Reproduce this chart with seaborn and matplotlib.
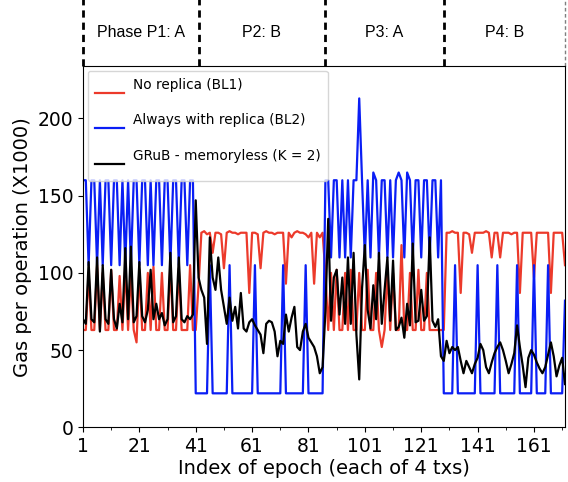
import matplotlib
matplotlib.use('Agg')
import matplotlib.pyplot as plt
import matplotlib.transforms as mtransforms
from matplotlib.legend_handler import HandlerLine2D
import seaborn as sns
import pandas as pd

# valores (gas por operacao, x1000), epocas 1..172
no_replica = [
    # fase 1 (A)
    63, 63, 100, 63, 63, 105, 63, 100, 63, 63, 102, 63, 63, 98, 63, 104, 63, 100, 63, 55,
    102, 63, 63, 100, 63, 104, 63, 63, 100, 63, 63, 105, 63, 63, 103, 63, 63, 63, 105, 63, 63,
    92,
    # fase 2 (B)
    126, 127, 125, 126, 113, 126, 126, 125, 103, 126, 127, 126, 126, 125, 126, 126, 126, 87,
    126, 126, 125, 103, 126, 127, 126, 126, 125, 126, 126, 126, 93, 126, 123, 126, 127, 126,
    126, 125, 123, 126, 93, 126, 123, 126, 100,
    # fase 3 (A)
    63, 100, 63, 102, 63, 63, 100, 63, 102, 63, 63, 100, 63, 63, 102, 63, 63, 100, 63, 52,
    63, 102, 63, 100, 63, 63, 118, 63, 63, 100, 63, 63, 102, 63, 63, 100, 63, 63, 63, 63, 63, 63,
    # fase 4 (B)
    126, 126, 127, 126, 126, 87, 126, 126, 125, 113, 126, 126, 126, 126, 127, 126, 110, 126,
    126, 110, 126, 126, 126, 125, 126, 126, 87, 126, 126, 126, 126, 97, 126, 126, 126, 126,
    126, 87, 126, 126, 126, 126, 105,
]

always_replica = [
    # fase 1 (A)
    160, 160, 105, 160, 160, 105, 160, 105, 160, 160, 105, 160, 160, 105, 160, 105, 160, 105,
    160, 160, 105, 160, 160, 105, 160, 105, 160, 160, 105, 160, 160, 105, 160, 160, 105, 160,
    160, 105, 160, 160,
    # fase 2 (B)
    22, 22, 22, 22, 22, 105, 22, 22, 22, 22, 22, 22, 105, 22, 22, 22, 22, 22, 22, 22, 22, 105,
    22, 22, 22, 22, 22, 22, 22, 22, 22, 105, 22, 22, 22, 22, 22, 22, 22, 105, 22, 22, 22, 22,
    22, 22,
    # fase 3 (A)
    160, 160, 110, 160, 160, 110, 160, 110, 160, 110, 160, 160, 213, 160, 110, 160, 110, 165,
    160, 110, 160, 160, 110, 160, 110, 160, 165, 160, 110, 165, 160, 110, 160, 160, 110, 160,
    160, 110, 160, 160, 110, 160,
    # fase 4 (B)
    22, 22, 22, 22, 105, 22, 22, 22, 22, 22, 22, 22, 105, 22, 22, 22, 22, 22, 22, 105, 22, 22,
    22, 22, 22, 22, 105, 22, 22, 22, 22, 22, 105, 22, 22, 22, 22, 105, 22, 22, 22, 22, 22, 82,
]

grub = [
    # fase 1 (A)
    70, 67, 107, 70, 68, 110, 62, 105, 70, 67, 102, 70, 64, 80, 68, 116, 70, 117, 68, 72,
    107, 72, 68, 76, 102, 70, 80, 70, 74, 66, 70, 113, 68, 72, 110, 70, 68, 72, 70, 73, 147,
    # fase 2 (B)
    97, 89, 84, 54, 123, 97, 89, 110, 89, 78, 67, 84, 69, 78, 64, 87, 64, 62, 68, 70, 66, 63,
    60, 48, 67, 69, 68, 62, 46, 56, 54, 73, 62, 71, 78, 52, 50, 62, 67, 58, 55, 52, 46, 35,
    39, 75,
    # fase 3 (A)
    135, 69, 97, 102, 73, 97, 67, 110, 67, 113, 60, 31, 90, 118, 76, 64, 92, 70, 113, 67, 89,
    110, 69, 108, 63, 65, 71, 58, 80, 66, 119, 68, 69, 89, 69, 72, 123, 69, 65, 70, 46,
    # fase 4 (B)
    43, 56, 48, 52, 50, 52, 43, 35, 43, 39, 35, 41, 45, 54, 50, 39, 35, 42, 48, 52, 55, 50,
    43, 35, 41, 48, 66, 52, 40, 26, 45, 50, 47, 42, 38, 35, 39, 47, 55, 46, 33, 40, 45, 28,
]

epocas = list(range(1, len(grub) + 1))
fases = ['Phase P1: A', 'P2: B', 'P3: A', 'P4: B']
limites_fase = [1, 42, 87, 129, 172]

df = pd.DataFrame({'Epoca': epocas, 'BL1': no_replica, 'BL2': always_replica, 'GRuB': grub})


class HandlerLinhaBaixa(HandlerLine2D):
    # no original a linha da legenda fica abaixo do texto
    def legend_artist(self, legend, orig_handle, fontsize, handlebox):
        extra = 1.05 * fontsize
        handlebox.ydescent += extra
        handlebox.height += extra
        return super().legend_artist(legend, orig_handle, fontsize, handlebox)

    def create_artists(self, legend, orig_handle, xdescent, ydescent, width, height, fontsize, trans):
        artists = super().create_artists(legend, orig_handle, xdescent, ydescent,
                                         width, height, fontsize, trans)
        for a in artists:
            a.set_ydata(a.get_ydata() - 0.65 * fontsize)
        return artists


fig = plt.figure(figsize=(5.68, 4.82), dpi=100)
ax = fig.add_axes([0.1461, 0.1135, 0.8486, 0.7496])

sns.lineplot(x='Epoca', y='BL1', data=df, color='#ec3a2b', linewidth=1.6, label='No replica (BL1)', ax=ax)
sns.lineplot(x='Epoca', y='BL2', data=df, color='#0a1ef5', linewidth=1.6, label='Always with replica (BL2)', ax=ax)
sns.lineplot(x='Epoca', y='GRuB', data=df, color='black', linewidth=1.6, label='GRuB - memoryless (K = 2)', ax=ax)

ax.set_xlim(1, 172)
ax.set_ylim(0, 234)
ax.set_xticks(range(1, 172, 20))
ax.set_xticks(range(11, 172, 20), minor=True)
ax.set_yticks([0, 50, 100, 150, 200])
ax.tick_params(labelsize=13.5)
ax.set_xlabel('Index of epoch (each of 4 txs)', fontsize=14, labelpad=2)
ax.set_ylabel('Gas per operation (X1000)', fontsize=14)

# linhas tracejadas das fases acima do grafico
trans = mtransforms.blended_transform_factory(ax.transData, ax.transAxes)
for i, xf in enumerate(limites_fase):
    ax.plot([xf, xf], [1.0, 1.19], transform=trans, color='black', linestyle=(0, (2.6, 1.8)),
            linewidth=2 if i < 4 else 1, alpha=1 if i < 4 else 0.5, clip_on=False)
for i, nome in enumerate(fases):
    xm = (limites_fase[i] + limites_fase[i + 1]) / 2
    ax.text(xm, 1.092, nome, transform=trans, ha='center', va='center',
            fontsize=11.5, family='Liberation Sans')

ax.legend(loc='upper left', fontsize=9.8, labelspacing=0.75, handlelength=2.2,
          handletextpad=0.65, borderpad=0.5, borderaxespad=0.35,
          handler_map={matplotlib.lines.Line2D: HandlerLinhaBaixa()})

plt.savefig('out.png', dpi=100)
